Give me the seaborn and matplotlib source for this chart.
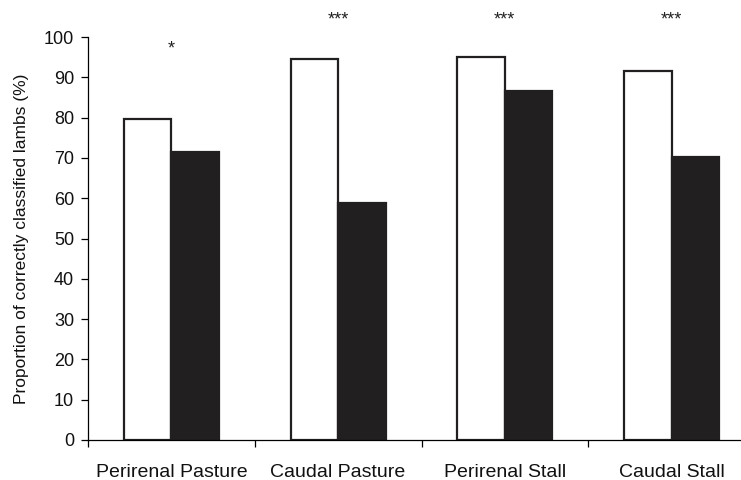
import matplotlib
matplotlib.use("Agg")
import matplotlib.pyplot as plt
import seaborn as sns
import pandas as pd
import numpy as np

# Werte
categories = ["Perirenal Pasture", "Caudal Pasture", "Perirenal Stall", "Caudal Stall"]
white_values = [79.6, 94.5, 95.0, 91.5]
black_values = [71.5, 58.8, 86.5, 70.2]
signif = ["*", "***", "***", "***"]
signif_y = [97.0, 104.2, 104.2, 104.2]
y_ticks = list(range(0, 101, 10))

sns.set_style("ticks")
plt.rcParams["font.family"] = ["Liberation Sans", "DejaVu Sans"]

df = pd.DataFrame({
    "category": categories * 2,
    "group": ["a"] * len(categories) + ["b"] * len(categories),
    "value": white_values + black_values,
})

fig = plt.figure(figsize=(7.41, 4.80), dpi=100)
ax = fig.add_axes([88 / 741, 40 / 480, 667 / 741, 403 / 480])

sns.barplot(data=df, x="category", y="value", hue="group",
            palette=["white", "#221f20"], edgecolor="#221f20",
            linewidth=1.6, width=0.57, ax=ax, legend=False)

for i, (s, y) in enumerate(zip(signif, signif_y)):
    ax.text(i, y, s, ha="center", va="center", fontsize=13, color="#222222",
            clip_on=False)

ax.set_ylim(0, 100)
ax.set_xlim(-0.5, len(categories) - 0.5)
ax.set_yticks(y_ticks)
ax.tick_params(axis="y", labelsize=13, length=5, width=0.9, pad=5,
               labelcolor="#111111", color="black")

# Striche zwischen den Gruppen, Beschriftung in der Mitte
ax.set_xticks(np.arange(len(categories) + 1) - 0.5)
ax.set_xticklabels([])
ax.set_xticks(np.arange(len(categories)), minor=True)
ax.set_xticklabels(categories, minor=True)
ax.tick_params(axis="x", which="major", length=5, width=0.9, color="black")
ax.tick_params(axis="x", which="minor", length=0, labelsize=14, pad=17,
               labelcolor="#111111")

ax.set_xlabel("")
ax.set_ylabel("Proportion of correctly classified lambs (%)", fontsize=12.5,
              color="#111111")
ax.yaxis.set_label_coords(-0.089, 0.5)

sns.despine(ax=ax)
for sp in ["left", "bottom"]:
    ax.spines[sp].set_linewidth(0.9)
    ax.spines[sp].set_color("black")

fig.savefig("out.png", dpi=100)
